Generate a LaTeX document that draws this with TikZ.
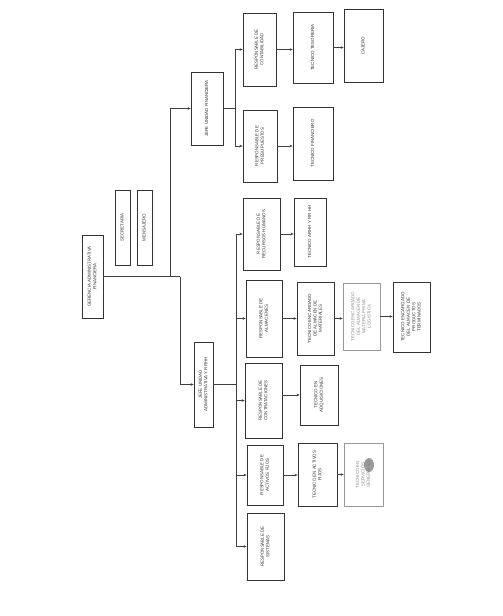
\documentclass[tikz,border=0pt]{standalone}
\usepackage{fontspec}
\setmainfont{Liberation Sans}
\usetikzlibrary{arrows.meta}
\newcommand{\vtext}[1]{\rotatebox{90}{\begin{tabular}{@{}c@{}}#1\end{tabular}}}
\tikzset{
  orgbox/.style={draw=black!80, line width=0.8pt, fill=white, inner sep=0pt,
    text=black!80, font=\fontsize{4.4}{5.4}\selectfont},
  faintbox/.style={orgbox, draw=black!40, text=black!45},
  link/.style={draw=black!75, line width=0.6pt},
  arr/.style={link, -{Stealth[length=3pt,width=2.6pt]}}
}
\begin{document}
\begin{tikzpicture}[x=1pt,y=-1pt]
\useasboundingbox (0,0) rectangle (503,616);
\fill[white] (0,0) rectangle (503,616);
% top level
\node[orgbox, minimum width=21pt, minimum height=83pt] (ger) at (92.5,276.5) {\vtext{GERENCIA ADMINISTRATIVA\\FINANCIERA}};
\node[orgbox, minimum width=15pt, minimum height=75pt] (sec) at (122.5,227.5) {\vtext{SECRETARIA}};
\node[orgbox, minimum width=15pt, minimum height=75pt] (men) at (144.5,227.5) {\vtext{MENSAJERO}};
% jefes
\node[orgbox, minimum width=32pt, minimum height=73pt] (jf) at (207,108.5) {\vtext{JEFE UNIDAD FINANCIERA}};
\node[orgbox, minimum width=19pt, minimum height=85pt] (ja) at (203.5,384.5) {\vtext{JEFE UNIDAD\\ADMINISTRATIVA Y RRHH}};
% finance branch
\node[orgbox, minimum width=33pt, minimum height=73pt] (rcont) at (259.5,49.5) {\vtext{RESPONSABLE DE\\CONTABILIDAD}};
\node[orgbox, minimum width=34pt, minimum height=72pt] (rpres) at (260,146) {\vtext{RESPONSABLE DE\\PRESUPUESTOS}};
\node[orgbox, minimum width=40pt, minimum height=71pt] (ttes) at (313,47.5) {\vtext{TECNICO TESORERIA}};
\node[orgbox, minimum width=40pt, minimum height=73pt] (tfin) at (313,143.5) {\vtext{TECNICO FINANCIERO}};
\node[orgbox, minimum width=39pt, minimum height=73pt] (caj) at (363.5,45.5) {\vtext{CAJERO}};
% admin branch
\node[orgbox, minimum width=37pt, minimum height=72pt] (rrhh) at (261.5,234) {\vtext{RESPONSABLE DE\\RECURSOS HUMANOS}};
\node[orgbox, minimum width=32pt, minimum height=68pt] (tarhh) at (310,232) {\vtext{TECNICO ARHH Y RR HH}};
\node[orgbox, minimum width=36pt, minimum height=77pt] (ralm) at (264,318.5) {\vtext{RESPONSABLE DE\\ALMACENES}};
\node[orgbox, minimum width=37pt, minimum height=73pt] (tmat) at (315.5,318.5) {\vtext{TECNICO ENCARGADO\\DE ALMACEN DE\\MATERIALES}};
\node[faintbox, minimum width=37pt, minimum height=67pt] (tlog) at (361.5,316.5) {\vtext{TECNICO ENCARGADO\\DEL ALMACEN DE\\MATERIA PRIMA\\LOGISTICA}};
\node[orgbox, minimum width=37pt, minimum height=70pt] (tpt) at (411.5,317) {\vtext{TECNICO ENCARGADO\\DEL ALMACEN DE\\PRODUCTOS\\TERMINADOS}};
\node[orgbox, minimum width=37pt, minimum height=75pt] (rcon) at (263.5,400.5) {\vtext{RESPONSABLE DE\\CONTRATACIONES}};
\node[orgbox, minimum width=38pt, minimum height=60pt] (tadq) at (319,395) {\vtext{TECNICO EN\\ADQUISICIONES}};
\node[orgbox, minimum width=36pt, minimum height=60pt] (raf) at (265,475) {\vtext{RESPONSABLE DE\\ACTIVOS FIJOS}};
\node[orgbox, minimum width=39pt, minimum height=63pt] (taf) at (317.5,474.5) {\vtext{TECNICO EN ACTIVOS\\FIJOS}};
\node[faintbox, minimum width=39pt, minimum height=63pt] (tsg) at (363.5,474.5) {\vtext{TECNICO EN\\SERVICIOS\\GENERALES}};
\node[orgbox, minimum width=37pt, minimum height=67pt] (rsis) at (265.5,546.5) {\vtext{RESPONSABLE DE\\SISTEMAS}};
% stamp
\fill[black!55, opacity=0.7] (369,465) ellipse (5pt and 7pt);
% trunk connectors
\coordinate (t1) at (170,276.5);
\coordinate (t2) at (180,276.5);
\draw[link] (ger.east) -- (t1);
\draw[arr] (t1) |- (jf.west);
\draw[link] (t1) -- (t2);
\draw[arr] (t2) |- (ja.west);
% finance
\coordinate (bf) at (235,108.5);
\draw[link] (jf.east) -- (bf);
\draw[arr] (bf) |- (rcont.west);
\draw[arr] (bf) |- (rpres.west);
\draw[arr] (rcont.east) -- (rcont.east -| ttes.west);
\draw[arr] (ttes.east) -- (ttes.east -| caj.west);
\draw[arr] (rpres.east) -- (rpres.east -| tfin.west);
% admin
\coordinate (ba) at (236,384.5);
\draw[link] (ja.east) -- (ba);
\draw[arr] (ba) |- (rrhh.west);
\draw[arr] (ba) |- (ralm.west);
\draw[arr] (ba) |- (rcon.west);
\draw[arr] (ba) |- (raf.west);
\draw[arr] (ba) |- (rsis.west);
\draw[arr] (rrhh.east) -- (rrhh.east -| tarhh.west);
\draw[arr] (ralm.east) -- (ralm.east -| tmat.west);
\draw[arr] (tmat.east) -- (tmat.east -| tlog.west);
\draw[arr] (tlog.east) -- (tlog.east -| tpt.west);
\draw[arr] (tadq.west -| rcon.east) -- (tadq.west);
\draw[arr] (raf.east) -- (raf.east -| taf.west);
\draw[arr] (taf.east) -- (taf.east -| tsg.west);
\end{tikzpicture}
\end{document}
